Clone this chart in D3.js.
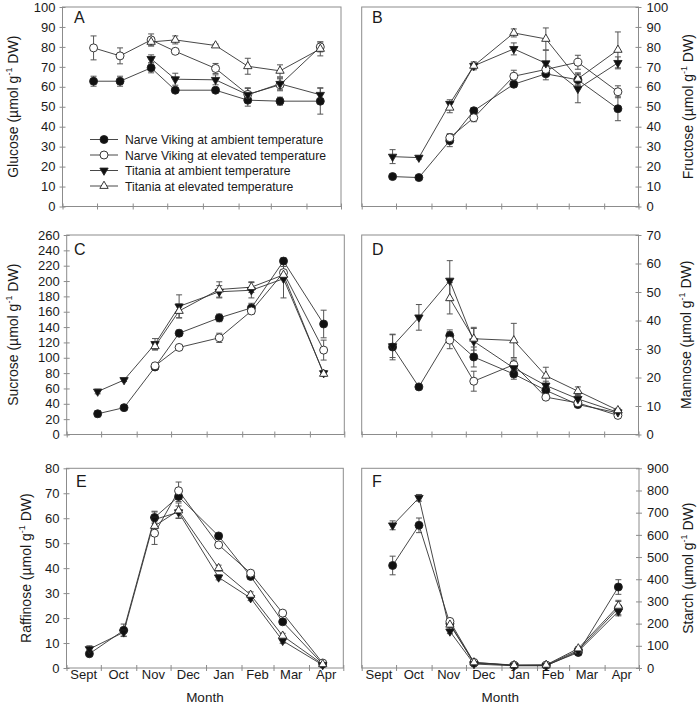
<!DOCTYPE html>
<html><head><meta charset="utf-8">
<script src="https://cdn.jsdelivr.net/npm/d3@7"></script>
<style>
body{margin:0;background:#fff}
svg{display:block}
text{font-family:"Liberation Sans",Arial,Helvetica,sans-serif;fill:#1a1a1a}
</style>
</head><body>
<svg id="chart" width="700" height="704"></svg>
<script>
// ---------- DATA ----------
const months = ["Sept","Oct","Nov","Dec","Jan","Feb","Mar","Apr"];
const monthStarts = ["2009-09-01","2009-10-01","2009-11-01","2009-12-01","2010-01-01","2010-02-01","2010-03-01","2010-04-01","2010-05-01"];
const sampleDates = ["2009-09-28","2009-10-21","2009-11-17","2009-12-08","2010-01-12","2010-02-09","2010-03-09","2010-04-13"];
const raffinoseDates = ["2009-09-21","2009-10-21","2009-11-17","2009-12-08","2010-01-12","2010-02-09","2010-03-09","2010-04-13"];
const seriesNames = ["Narve Viking at ambient temperature","Narve Viking at elevated temperature","Titania at ambient temperature","Titania at elevated temperature"];

const glucoseMean = [
  [62.8,62.8,69.5,58.3,58.3,53.3,52.8,52.8],
  [79.5,75.5,83.5,77.8,69.2,56.2,61,80],
  [null,null,74,63.8,63.5,56,61.5,56],
  [null,null,82.5,83.5,80.7,70.3,68,79]];
const glucoseErr = [
  [2.5,2.5,2.5,1,1,3,2,6.5],
  [6,4,3,1,2.5,3,3,2.5],
  [null,null,2,3,2.5,3.5,3,3.5],
  [null,null,2,2,0.7,4,3,3.5]];

const fructoseMean = [
  [15,14.5,33,48,61.3,66.5,63.5,49],
  [null,null,34.5,44.5,65.3,68.7,72.3,57.5],
  [25,24.5,51.5,70.5,79,71.8,59,72],
  [null,null,49.5,70.5,87,84,64,78.5]];
const fructoseErr = [
  [0.8,0.8,3,1.5,1.5,3,3,6],
  [null,null,2,2,3,2,3.5,3],
  [3.5,0.8,2,2,3,6.5,7,3],
  [null,null,2.5,1.5,2,5.5,3,9]];

const sucroseMean = [
  [27,35,88,132,152,165,226,144],
  [null,null,89.5,113.5,126,161,211,110],
  [56,71,118,167,186,188,203,80],
  [null,null,115,161,189,192,208,79]];
const sucroseErr = [
  [4,2,3,4,5,6,4,18],
  [null,null,3,3,6,4,8,13],
  [3,2,7,15,8,10,25,3],
  [null,null,5,9,10,7,5,3]];

const mannoseMean = [
  [30.7,16.7,34.7,27.2,21.2,15.5,10.5,7.6],
  [null,null,33.1,18.7,24.5,13.1,11.1,6.7],
  [31,41.1,54,32.7,23.3,17.2,12.5,7.8],
  [null,null,47.8,33.6,33,20.6,15.2,8.5]];
const mannoseErr = [
  [4.5,0.5,2,3.5,1.8,1.5,0.8,0.8],
  [null,null,3,3.5,2,0.5,0.5,0.5],
  [4,4.5,7,4.5,2.5,1.5,1.5,0.8],
  [null,null,5.5,4,6,3,1.5,0.7]];

const raffinoseMean = [
  [5.7,15.1,60.3,68.7,52.9,36.7,18.5,1.6],
  [null,null,54,71,49.3,38,22,2],
  [7.6,14.3,59.5,62.4,36.3,28,10.9,1.2],
  [null,null,56.9,63.1,40,29.3,12.9,1.5]];
const raffinoseErr = [
  [0.6,2.5,2.5,2,0.7,1,0.8,0.5],
  [null,null,4.5,3.5,1,1,0.7,0.5],
  [1.3,1.5,3,2.5,1,1,1,0.3],
  [null,null,3,3,1.2,1.2,1,0.3]];

const starchMean = [
  [462,643,200,22,12,12,70,365],
  [null,null,210,25,12,13,80,270],
  [643,767,165,18,10,10,75,255],
  [null,null,195,25,13,14,88,280]];
const starchErr = [
  [42,33,10,3,2,2,6,33],
  [null,null,10,3,2,2,6,30],
  [20,15,10,3,2,2,6,20],
  [null,null,10,3,2,2,8,25]];

const glucoseTicks = d3.range(0,101,10);
const fructoseTicks = d3.range(0,101,10);
const sucroseTicks = d3.range(0,261,20);
const mannoseTicks = d3.range(0,71,10);
const raffinoseTicks = d3.range(0,81,10);
const starchTicks = d3.range(0,901,100);

// ---------- LAYOUT ----------
const parse = d3.utcParse("%Y-%m-%d");
const panels = [
  {letter:"A", name:"Glucose", mean:glucoseMean, err:glucoseErr, dates:sampleDates, ticks:glucoseTicks,
   x0:62.5, x1:341, y0:7, y1:206.5, side:"left", titleX:13, letterPos:[74,23], monthLabels:false, legend:true},
  {letter:"B", name:"Fructose", mean:fructoseMean, err:fructoseErr, dates:sampleDates, ticks:fructoseTicks,
   x0:361.7, x1:638.5, y0:7, y1:206.5, side:"right", titleX:688, letterPos:[372,23], monthLabels:false},
  {letter:"C", name:"Sucrose", mean:sucroseMean, err:sucroseErr, dates:sampleDates, ticks:sucroseTicks,
   x0:66.7, x1:344.3, y0:235, y1:434.5, side:"left", titleX:13, letterPos:[74,255], monthLabels:false},
  {letter:"D", name:"Mannose", mean:mannoseMean, err:mannoseErr, dates:sampleDates, ticks:mannoseTicks,
   x0:361.7, x1:638.5, y0:235, y1:434.5, side:"right", titleX:686, letterPos:[372,255], monthLabels:false},
  {letter:"E", name:"Raffinose", mean:raffinoseMean, err:raffinoseErr, dates:raffinoseDates, ticks:raffinoseTicks,
   x0:66.5, x1:343.3, y0:468.3, y1:668, side:"left", titleX:26, letterPos:[76,487], monthLabels:true},
  {letter:"F", name:"Starch", mean:starchMean, err:starchErr, dates:sampleDates, ticks:starchTicks,
   x0:361.7, x1:639, y0:468.3, y1:668, side:"right", titleX:688, letterPos:[372,487], monthLabels:true}
];

const svg = d3.select("#chart");
svg.append("rect").attr("width",700).attr("height",704).attr("fill","#fff");

const frameColor = "#8c8c8c";
const lineColor = "#333";
const errColor = "#555";

function marker(sel, s, cx, cy) {
  if (s === 0 || s === 1) {
    sel.append("circle").attr("cx",cx).attr("cy",cy).attr("r",4)
      .attr("fill", s===0 ? "#111" : "#fff").attr("stroke","#222").attr("stroke-width",0.9);
  } else {
    const path = d3.symbol(d3.symbolTriangle).size(30)();
    sel.append("path").attr("d",path)
      .attr("transform",`translate(${cx},${cy})` + (s===2 ? " rotate(180)" : ""))
      .attr("fill", s===2 ? "#111" : "#fff").attr("stroke","#222").attr("stroke-width",0.9);
  }
}

panels.forEach(p => {
  const g = svg.append("g");
  const x = d3.scaleUtc().domain([parse(monthStarts[0]), parse(monthStarts[monthStarts.length-1])]).range([p.x0, p.x1]);
  const ymax = p.ticks[p.ticks.length-1];
  const y = d3.scaleLinear().domain([0, ymax]).range([p.y1, p.y0]);

  // frame
  g.append("rect").attr("x",p.x0).attr("y",p.y0).attr("width",p.x1-p.x0).attr("height",p.y1-p.y0)
    .attr("fill","none").attr("stroke",frameColor).attr("stroke-width",1);

  // x axis ticks (crossing)
  const xa = g.append("g").attr("transform",`translate(0,${p.y1-3})`)
    .call(d3.axisBottom(x).tickValues(monthStarts.map(parse)).tickSize(6).tickFormat(""));
  xa.select(".domain").remove();
  xa.selectAll("line").attr("stroke",frameColor);

  if (p.monthLabels) {
    months.forEach((m,i) => {
      const mid = (x(parse(monthStarts[i])) + x(parse(monthStarts[i+1]))) / 2;
      g.append("text").attr("x",mid).attr("y",p.y1+11).attr("text-anchor","middle")
        .attr("font-size",13).text(m);
    });
    g.append("text").attr("x",(p.x0+p.x1)/2).attr("y",702).attr("text-anchor","middle")
      .attr("font-size",13.5).text("Month");
  }

  // y axis
  let ya;
  if (p.side === "left") {
    ya = g.append("g").attr("transform",`translate(${p.x0+3},0)`)
      .call(d3.axisLeft(y).tickValues(p.ticks).tickSize(6).tickPadding(4));
  } else {
    ya = g.append("g").attr("transform",`translate(${p.x1-3},0)`)
      .call(d3.axisRight(y).tickValues(p.ticks).tickSize(6).tickPadding(5));
  }
  ya.select(".domain").remove();
  ya.selectAll("line").attr("stroke",frameColor);
  ya.selectAll("text").attr("font-size",13).attr("fill","#1a1a1a")
    .attr("font-family","'Liberation Sans',Arial,sans-serif");

  // y title
  const cy = (p.y0 + p.y1)/2;
  const t = g.append("text").attr("transform",`translate(${p.titleX+5},${cy}) rotate(-90)`)
    .attr("text-anchor","middle").attr("font-size",14);
  t.append("tspan").text(p.name + " (µmol g");
  t.append("tspan").attr("font-size",9).attr("dy",-6).text("-1");
  t.append("tspan").attr("dy",6).text(" DW)");

  // panel letter
  g.append("text").attr("x",p.letterPos[0]).attr("y",p.letterPos[1]).attr("font-size",16).text(p.letter);

  const pts = p.mean.map((arr,s) => arr.map((v,i) => ({s, v, e:p.err[s][i], d:parse(p.dates[i])})));

  // error bars
  pts.forEach(arr => arr.forEach(d => {
    if (d.v == null || d.e == null) return;
    const xx = x(d.d), ylo = y(Math.max(0,d.v-d.e)), yhi = y(d.v+d.e);
    g.append("line").attr("x1",xx).attr("x2",xx).attr("y1",ylo).attr("y2",yhi).attr("stroke",errColor).attr("stroke-width",1);
    [ylo,yhi].forEach(yy => g.append("line").attr("x1",xx-3).attr("x2",xx+3).attr("y1",yy).attr("y2",yy).attr("stroke",errColor).attr("stroke-width",1));
  }));

  // lines
  const line = d3.line().defined(d => d.v != null).x(d => x(d.d)).y(d => y(d.v));
  pts.forEach(arr => g.append("path").attr("d",line(arr)).attr("fill","none").attr("stroke",lineColor).attr("stroke-width",0.9));

  // markers
  pts.forEach(arr => arr.forEach(d => { if (d.v != null) marker(g, d.s, x(d.d), y(d.v)); }));

  // legend
  if (p.legend) {
    const rows = [139.5, 155, 170.5, 186];
    seriesNames.forEach((nm,s) => {
      g.append("line").attr("x1",90).attr("x2",118).attr("y1",rows[s]).attr("y2",rows[s]).attr("stroke",lineColor).attr("stroke-width",0.9);
      marker(g, s, 104, rows[s]);
      g.append("text").attr("x",125).attr("y",rows[s]+4.5).attr("font-size",12.2).text(nm);
    });
  }
});
</script>
</body></html>
